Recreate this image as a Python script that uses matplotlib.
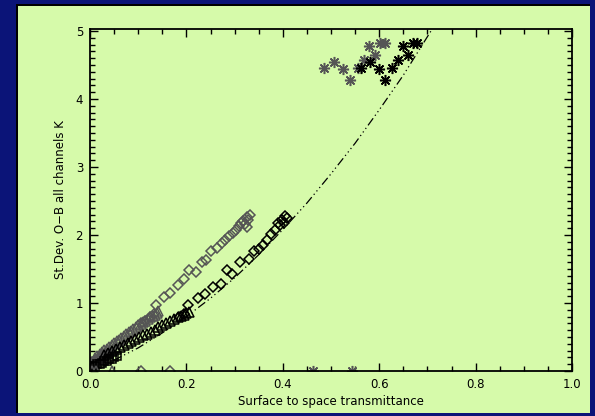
import numpy as np
import matplotlib.pyplot as plt
from matplotlib.patches import Rectangle

# --- values ---
# dash-dot-dot-dot reference curve
curve_x = [0.0, 0.05, 0.10, 0.15, 0.20, 0.25, 0.30, 0.35, 0.40, 0.45, 0.50, 0.55, 0.60, 0.65, 0.71]
curve_y = [0.03, 0.16, 0.34, 0.56, 0.80, 1.07, 1.37, 1.71, 2.08, 2.47, 2.90, 3.35, 3.84, 4.35, 5.03]

# grey branch
gsq_x = [0.000, 0.004, 0.008, 0.012, 0.016, 0.020, 0.024, 0.028, 0.032, 0.035]
gsq_y = [0.10, 0.12, 0.13, 0.15, 0.16, 0.18, 0.19, 0.21, 0.23, 0.25]
gtri_x = [0.010, 0.015, 0.020, 0.025, 0.030, 0.035, 0.040, 0.045, 0.050, 0.055, 0.060, 0.065,
          0.070, 0.075, 0.080, 0.085, 0.090, 0.095, 0.100, 0.105, 0.110, 0.115, 0.120, 0.125,
          0.130, 0.135, 0.140, 0.142]
gtri_y = [0.19, 0.22, 0.25, 0.28, 0.31, 0.33, 0.36, 0.38, 0.41, 0.44, 0.46, 0.49,
          0.51, 0.54, 0.57, 0.59, 0.62, 0.64, 0.67, 0.69, 0.72, 0.74, 0.76, 0.79,
          0.81, 0.83, 0.85, 0.88]
gdia_x = [0.105, 0.115, 0.125, 0.132, 0.137, 0.154, 0.167, 0.182, 0.194, 0.206, 0.219, 0.233,
          0.240, 0.252, 0.263, 0.273, 0.281, 0.289, 0.297, 0.303, 0.309, 0.314, 0.318, 0.322,
          0.325, 0.326, 0.328, 0.331]
gdia_y = [0.70, 0.74, 0.80, 0.84, 0.97, 1.09, 1.14, 1.27, 1.36, 1.49, 1.46, 1.60,
          1.63, 1.77, 1.81, 1.88, 1.93, 1.98, 2.03, 2.08, 2.13, 2.18, 2.21, 2.16,
          2.12, 2.27, 2.22, 2.29]
gast_x = [0.485, 0.506, 0.524, 0.540, 0.556, 0.568, 0.579, 0.591, 0.601, 0.613]
gast_y = [4.46, 4.54, 4.44, 4.28, 4.46, 4.58, 4.78, 4.65, 4.83, 4.82]

# black branch
bsq_x = [0.000, 0.005, 0.010, 0.015, 0.020, 0.025, 0.030, 0.035, 0.040, 0.045, 0.050, 0.055]
bsq_y = [0.06, 0.07, 0.08, 0.10, 0.11, 0.12, 0.14, 0.15, 0.17, 0.18, 0.20, 0.22]
btri_x = [0.030, 0.038, 0.046, 0.054, 0.062, 0.070, 0.078, 0.086, 0.094, 0.102, 0.110, 0.118,
          0.126, 0.134, 0.142, 0.150, 0.158, 0.166, 0.174, 0.182, 0.188, 0.194, 0.200, 0.205]
btri_y = [0.23, 0.26, 0.29, 0.32, 0.35, 0.38, 0.41, 0.44, 0.47, 0.50, 0.53, 0.55,
          0.58, 0.61, 0.64, 0.67, 0.70, 0.73, 0.76, 0.79, 0.81, 0.83, 0.85, 0.87]
bdia_x = [0.185, 0.195, 0.204, 0.224, 0.239, 0.255, 0.271, 0.285, 0.295, 0.311, 0.330, 0.341,
          0.350, 0.358, 0.368, 0.375, 0.383, 0.390, 0.395, 0.398, 0.402, 0.405, 0.408]
bdia_y = [0.80, 0.84, 0.97, 1.08, 1.13, 1.23, 1.28, 1.48, 1.42, 1.60, 1.65, 1.77,
          1.79, 1.85, 1.92, 2.02, 2.07, 2.18, 2.15, 2.22, 2.17, 2.28, 2.25]
bast_x = [0.562, 0.581, 0.599, 0.613, 0.627, 0.639, 0.649, 0.660, 0.670, 0.678]
bast_y = [4.46, 4.54, 4.44, 4.28, 4.46, 4.58, 4.78, 4.65, 4.83, 4.82]

# points sitting on the x axis (half hidden)
ztri_x = [0.005, 0.013, 0.045]
zdia_x = [0.106, 0.167]
zast_x = [0.462, 0.543]

navy = '#0b1478'
green = '#d6faaa'
grey = '#555555'

fig = plt.figure(figsize=(5.95, 4.16), dpi=100, facecolor=navy)
# panel with a thin dark shadow on top/left
fig.patches.append(Rectangle((0.0270, 0.007), 0.965, 0.983, transform=fig.transFigure,
                             facecolor='black', edgecolor='none', zorder=-10))
fig.patches.append(Rectangle((0.0295, 0.007), 0.962, 0.979, transform=fig.transFigure,
                             facecolor=green, edgecolor='none', zorder=-9))

ax = fig.add_axes([90 / 595, 45 / 416, 482 / 595, 342 / 416])
ax.set_facecolor(green)

ax.plot(curve_x, curve_y, color='black', lw=0.9, dashes=[7, 2.5, 1, 2.5, 1, 2.5, 1, 2.5])

ms_kw = dict(linestyle='none', markerfacecolor='none', mew=1.1)
sq, tri, dia, ast = 5.5, 7, 5.2, 8
ax.plot(gsq_x, gsq_y, marker='s', ms=sq, mec=grey, **ms_kw)
ax.plot(gtri_x, gtri_y, marker='^', ms=tri, mec=grey, **ms_kw)
ax.plot(gdia_x, gdia_y, marker='D', ms=dia, mec=grey, **ms_kw)
ax.plot(gast_x, gast_y, marker=(8, 2, 0), ms=ast, mec=grey, **ms_kw)

ax.plot(bsq_x, bsq_y, marker='s', ms=sq, mec='black', **ms_kw)
ax.plot(btri_x, btri_y, marker='^', ms=tri, mec='black', **ms_kw)
ax.plot(bdia_x, bdia_y, marker='D', ms=dia, mec='black', **ms_kw)
ax.plot(bast_x, bast_y, marker=(8, 2, 0), ms=ast, mec='black', **ms_kw)

ax.plot(ztri_x, [0] * len(ztri_x), marker='^', ms=tri, mec=grey, **ms_kw)
ax.plot(zdia_x, [0] * len(zdia_x), marker='D', ms=dia, mec=grey, **ms_kw)
ax.plot(zast_x, [0] * len(zast_x), marker=(8, 2, 0), ms=ast, mec=grey, **ms_kw)

ax.set_xlim(0, 1.0)
ax.set_ylim(0, 5.03)
ax.set_xticks(np.arange(0, 1.01, 0.2))
ax.set_xticks(np.arange(0, 1.01, 0.05), minor=True)
ax.set_yticks(range(6))
ax.set_yticks(np.arange(0, 5.01, 0.1), minor=True)
ax.set_xticklabels(['0.0', '0.2', '0.4', '0.6', '0.8', '1.0'])
ax.set_yticklabels(['0', '1', '2', '3', '4', '5'])

ax.tick_params(which='both', direction='in', top=True, right=True, colors='black',
               labelsize=8.5, width=1.0)
ax.tick_params(which='major', length=6, pad=5)
ax.tick_params(which='minor', length=3.5)
for s in ax.spines.values():
    s.set_linewidth(1.3)

ax.set_xlabel('Surface to space transmittance', fontsize=8.5, labelpad=3)
ax.set_ylabel('St.Dev. O\u2212B all channels K', fontsize=8.5, labelpad=6)

fig.savefig('out.png', dpi=100, facecolor=navy)
